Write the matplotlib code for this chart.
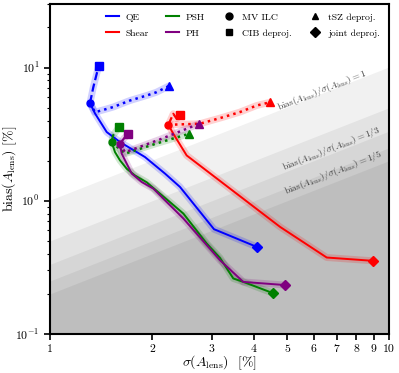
import numpy as np
import matplotlib
matplotlib.use("Agg")
import matplotlib.pyplot as plt
from matplotlib.lines import Line2D

plt.rcParams['font.family'] = 'serif'
plt.rcParams['font.serif'] = ['cmr10']
plt.rcParams['mathtext.fontset'] = 'cm'
plt.rcParams['axes.formatter.use_mathtext'] = True

# ---- data: sigma(A_lens) [%] and bias(A_lens) [%] ----
# QE
qe_joint_x = [1.312, 1.358, 1.470, 1.609, 1.906, 2.184, 2.418, 3.046, 4.07]
qe_joint_y = [5.41, 4.52, 3.28, 2.76, 2.13, 1.60, 1.27, 0.612, 0.451]
qe_cib_x = [1.312, 1.342, 1.373, 1.392]
qe_cib_y = [5.41, 7.12, 8.97, 10.3]
qe_tsz_x = [1.312, 1.358, 1.534, 1.722, 1.928, 2.06, 2.249]
qe_tsz_y = [5.41, 4.62, 5.05, 5.66, 6.17, 6.53, 7.3]
# Shear
sh_joint_x = [2.234, 2.31, 2.53, 4.77, 6.55, 8.99]
sh_joint_y = [3.72, 3.19, 2.19, 0.637, 0.375, 0.354]
sh_cib_x = [2.234, 2.31, 2.364, 2.418]
sh_cib_y = [3.72, 4.50, 4.13, 4.37]
sh_tsz_x = [2.234, 2.77, 3.25, 3.63, 4.07, 4.456]
sh_tsz_y = [3.72, 3.79, 4.25, 4.63, 5.19, 5.49]
# PSH
psh_joint_x = [1.52, 1.555, 1.609, 1.684, 1.781, 1.929, 2.474, 2.899, 3.172, 3.473, 3.717, 4.56]
psh_joint_y = [2.76, 2.32, 2.01, 1.74, 1.55, 1.376, 0.802, 0.478, 0.373, 0.261, 0.246, 0.202]
psh_cib_x = [1.52, 1.534, 1.598]
psh_cib_y = [2.76, 3.09, 3.57]
psh_tsz_x = [1.52, 1.665, 2.07, 2.576]
psh_tsz_y = [2.76, 2.26, 2.70, 3.19]
# PH
ph_joint_x = [1.609, 1.627, 1.684, 1.742, 1.865, 2.017, 2.474, 3.172, 3.717, 4.934]
ph_joint_y = [2.68, 2.26, 1.90, 1.60, 1.383, 1.234, 0.736, 0.358, 0.246, 0.233]
ph_cib_x = [1.609, 1.653, 1.702]
ph_cib_y = [2.68, 2.94, 3.15]
ph_tsz_x = [1.609, 1.665, 2.111, 2.757]
ph_tsz_y = [2.68, 2.31, 2.89, 3.79]

ratios = [1, 1/2, 1/3, 1/4, 1/5]
ratio_labels = {1: r'$\mathrm{bias}(A_{\rm lens})/\sigma(A_{\rm lens}) = 1$',
                1/3: r'$\mathrm{bias}(A_{\rm lens})/\sigma(A_{\rm lens}) = 1/3$',
                1/5: r'$\mathrm{bias}(A_{\rm lens})/\sigma(A_{\rm lens}) = 1/5$'}
label_pos = {1: (6.34, 6.73), 1/3: (6.74, 2.47), 1/5: (6.83, 1.635)}

estimators = {
    'QE': ('blue', qe_joint_x, qe_joint_y, qe_cib_x, qe_cib_y, qe_tsz_x, qe_tsz_y),
    'Shear': ('red', sh_joint_x, sh_joint_y, sh_cib_x, sh_cib_y, sh_tsz_x, sh_tsz_y),
    'PSH': ('green', psh_joint_x, psh_joint_y, psh_cib_x, psh_cib_y, psh_tsz_x, psh_tsz_y),
    'PH': ('purple', ph_joint_x, ph_joint_y, ph_cib_x, ph_cib_y, ph_tsz_x, ph_tsz_y),
}

fig = plt.figure(figsize=(3.99, 3.73), dpi=100)
ax = fig.add_axes([0.1253, 0.1046, 0.8497, 0.8846])
ax.set_xscale('log')
ax.set_yscale('log')
ax.set_xlim(1, 10)
ax.set_ylim(0.1, 30)

xs = np.logspace(0, 1, 50)
for r in ratios:
    ax.fill_between(xs, 0.01, r * xs, color='k', alpha=0.055, lw=0, zorder=0)
for r, lab in ratio_labels.items():
    lx, ly = label_pos[r]
    ax.text(lx, ly, lab, rotation=21.5, ha='center', va='center', fontsize=6.8,
            color='#444444', rotation_mode='anchor', zorder=1)

for name, (c, jx, jy, cx, cy, tx, ty) in estimators.items():
    for (px, py, ls, lw) in [(jx, jy, '-', 1.4), (cx, cy, '--', 1.6), (tx, ty, ':', 1.8)]:
        ax.plot(px, py, color=c, lw=5, alpha=0.18, solid_capstyle='butt',
                solid_joinstyle='round', zorder=2)
        ax.plot(px, py, color=c, lw=lw, ls=ls, zorder=3)
    ax.plot(jx[0], jy[0], 'o', color=c, ms=5, zorder=4)
    ax.plot(cx[-1], cy[-1], 's', color=c, ms=6, zorder=4)
    ax.plot(tx[-1], ty[-1], '^', color=c, ms=6, zorder=4)
    ax.plot(jx[-1], jy[-1], 'D', color=c, ms=5.5, zorder=4)

handles = [Line2D([], [], color='blue', lw=1.5, label='QE'),
           Line2D([], [], color='red', lw=1.5, label='Shear'),
           Line2D([], [], color='green', lw=1.5, label='PSH'),
           Line2D([], [], color='purple', lw=1.5, label='PH'),
           Line2D([], [], color='k', marker='o', ls='none', ms=5, label='MV ILC'),
           Line2D([], [], color='k', marker='s', ls='none', ms=5, label='CIB deproj.'),
           Line2D([], [], color='k', marker='^', ls='none', ms=5, label='tSZ deproj.'),
           Line2D([], [], color='k', marker='D', ls='none', ms=5, label='joint deproj.')]
ax.legend(handles=handles, ncol=4, loc='upper right', frameon=False, fontsize=7,
          handlelength=1.3, columnspacing=1.8, handletextpad=0.7, borderaxespad=0.5,
          labelspacing=0.75, bbox_to_anchor=(1.0, 1.0))

xticks = [1, 2, 3, 4, 5, 6, 7, 8, 9, 10]
ax.set_xticks(xticks)
ax.set_xticklabels([str(t) for t in xticks])
ax.xaxis.set_minor_locator(matplotlib.ticker.NullLocator())
ax.tick_params(axis='both', which='major', labelsize=8.5, length=4, width=1.2, direction='out')
ax.tick_params(axis='y', which='minor', length=2.5, width=0.8, direction='out')
for s in ax.spines.values():
    s.set_linewidth(1.5)

ax.set_xlabel(r'$\sigma(A_{\rm lens})$  [%]', fontsize=10)
ax.set_ylabel(r'$\mathrm{bias}(A_{\rm lens})$ [%]', fontsize=10)
ax.xaxis.set_label_coords(0.5, -0.06)
ax.yaxis.set_label_coords(-0.09, 0.5)

fig.savefig('out.png', dpi=100)
